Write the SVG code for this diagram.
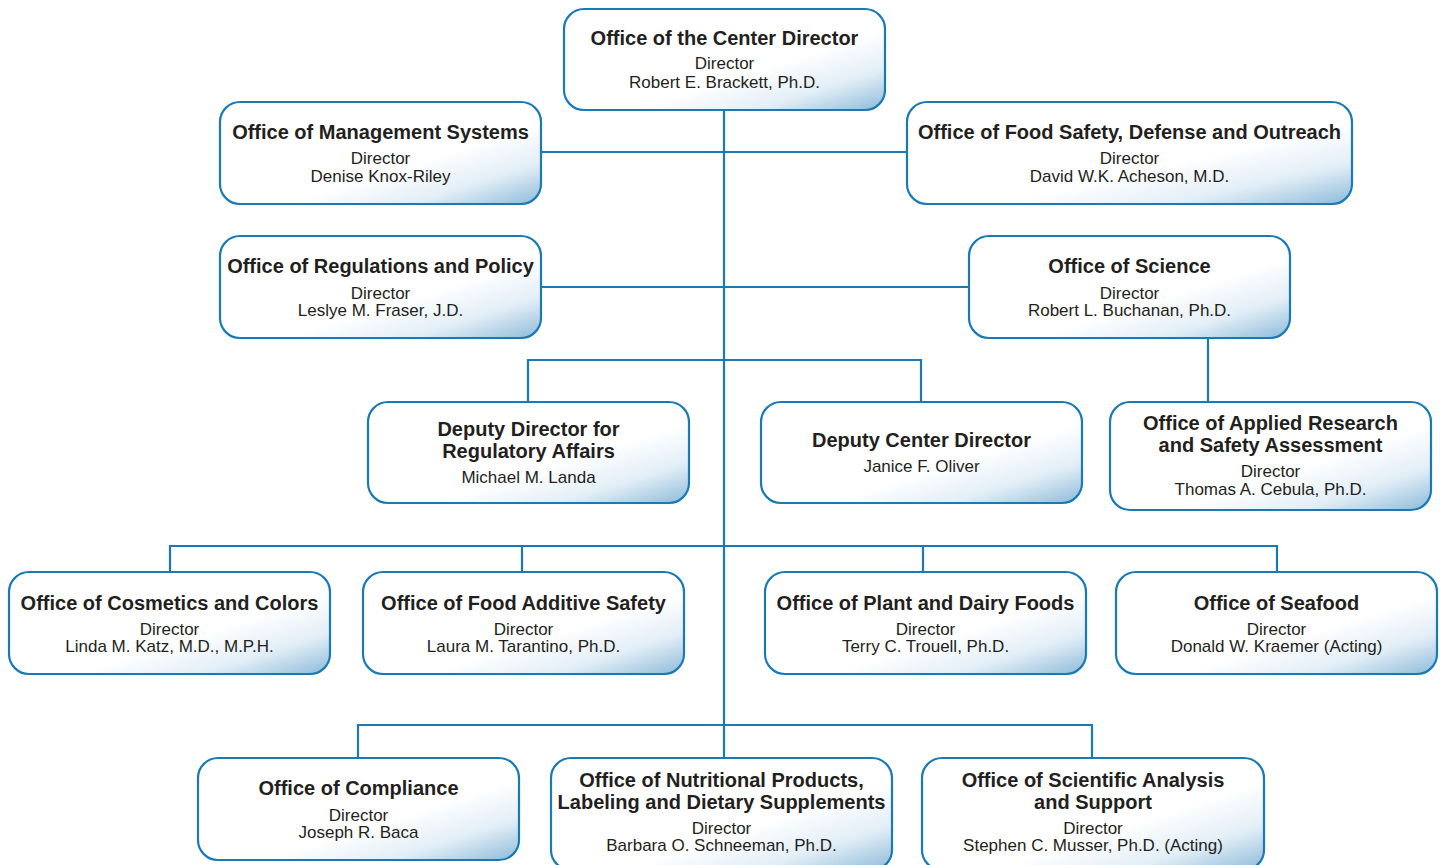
<svg xmlns="http://www.w3.org/2000/svg" width="1440" height="865" viewBox="0 0 1440 865">
<defs>
<linearGradient id="g" x1="0" y1="0" x2="1" y2="1">
<stop offset="0" stop-color="#ffffff"/>
<stop offset="0.6" stop-color="#ffffff"/>
<stop offset="0.8" stop-color="#e2eef7"/>
<stop offset="1" stop-color="#8cbad9"/>
</linearGradient>
</defs>
<style>
.box{fill:url(#g);stroke:#1a7ab5;stroke-width:2.2}
.ln{fill:none;stroke:#1a7ab5;stroke-width:2.2}
text{font-family:"Liberation Sans",Arial,sans-serif;fill:#231f20;text-anchor:middle}
.t{font-size:20px;font-weight:bold}
.s{font-size:17px}
</style>
<rect width="1440" height="865" fill="#ffffff"/>
<g id="connectors">
<path class="ln" d="M724 110V758"/>
<path class="ln" d="M541 152H907"/>
<path class="ln" d="M541 287H969"/>
<path class="ln" d="M528 402V360H921V402"/>
<path class="ln" d="M1208 338V402"/>
<path class="ln" d="M170 572V546H1277V572M522 546V572M923 546V572"/>
<path class="ln" d="M358 758V725H1092V758"/>
</g>
<g id="n-center">
<rect class="box" x="564" y="9" width="321" height="101" rx="20"/>
<text class="t" x="724.5" y="45">Office of the Center Director</text>
<text class="s" x="724.5" y="69">Director</text>
<text class="s" x="724.5" y="88">Robert E. Brackett, Ph.D.</text>
</g>
<g id="n-mgmt">
<rect class="box" x="220" y="102" width="321" height="102" rx="20"/>
<text class="t" x="380.5" y="139">Office of Management Systems</text>
<text class="s" x="380.5" y="164">Director</text>
<text class="s" x="380.5" y="182">Denise Knox-Riley</text>
</g>
<g id="n-foodsafety">
<rect class="box" x="907" y="102" width="445" height="102" rx="20"/>
<text class="t" x="1129.5" y="139">Office of Food Safety, Defense and Outreach</text>
<text class="s" x="1129.5" y="164">Director</text>
<text class="s" x="1129.5" y="182">David W.K. Acheson, M.D.</text>
</g>
<g id="n-regs">
<rect class="box" x="220" y="236" width="321" height="102" rx="20"/>
<text class="t" x="380.5" y="273">Office of Regulations and Policy</text>
<text class="s" x="380.5" y="299">Director</text>
<text class="s" x="380.5" y="316">Leslye M. Fraser, J.D.</text>
</g>
<g id="n-science">
<rect class="box" x="969" y="236" width="321" height="102" rx="20"/>
<text class="t" x="1129.5" y="273">Office of Science</text>
<text class="s" x="1129.5" y="299">Director</text>
<text class="s" x="1129.5" y="316">Robert L. Buchanan, Ph.D.</text>
</g>
<g id="n-depreg">
<rect class="box" x="368" y="402" width="321" height="101" rx="20"/>
<text class="t" x="528.5" y="436">Deputy Director for</text>
<text class="t" x="528.5" y="458">Regulatory Affairs</text>
<text class="s" x="528.5" y="483">Michael M. Landa</text>
</g>
<g id="n-depcenter">
<rect class="box" x="761" y="402" width="321" height="101" rx="20"/>
<text class="t" x="921.5" y="447">Deputy Center Director</text>
<text class="s" x="921.5" y="472">Janice F. Oliver</text>
</g>
<g id="n-applied">
<rect class="box" x="1110" y="402" width="321" height="108" rx="20"/>
<text class="t" x="1270.5" y="430">Office of Applied Research</text>
<text class="t" x="1270.5" y="452">and Safety Assessment</text>
<text class="s" x="1270.5" y="477">Director</text>
<text class="s" x="1270.5" y="495">Thomas A. Cebula, Ph.D.</text>
</g>
<g id="n-cosmetics">
<rect class="box" x="9" y="572" width="321" height="102" rx="20"/>
<text class="t" x="169.5" y="610">Office of Cosmetics and Colors</text>
<text class="s" x="169.5" y="635">Director</text>
<text class="s" x="169.5" y="652">Linda M. Katz, M.D., M.P.H.</text>
</g>
<g id="n-additive">
<rect class="box" x="363" y="572" width="321" height="102" rx="20"/>
<text class="t" x="523.5" y="610">Office of Food Additive Safety</text>
<text class="s" x="523.5" y="635">Director</text>
<text class="s" x="523.5" y="652">Laura M. Tarantino, Ph.D.</text>
</g>
<g id="n-plant">
<rect class="box" x="765" y="572" width="321" height="102" rx="20"/>
<text class="t" x="925.5" y="610">Office of Plant and Dairy Foods</text>
<text class="s" x="925.5" y="635">Director</text>
<text class="s" x="925.5" y="652">Terry C. Trouell, Ph.D.</text>
</g>
<g id="n-seafood">
<rect class="box" x="1116" y="572" width="321" height="102" rx="20"/>
<text class="t" x="1276.5" y="610">Office of Seafood</text>
<text class="s" x="1276.5" y="635">Director</text>
<text class="s" x="1276.5" y="652">Donald W. Kraemer (Acting)</text>
</g>
<g id="n-compliance">
<rect class="box" x="198" y="758" width="321" height="102" rx="20"/>
<text class="t" x="358.5" y="795">Office of Compliance</text>
<text class="s" x="358.5" y="821">Director</text>
<text class="s" x="358.5" y="838">Joseph R. Baca</text>
</g>
<g id="n-nutrition">
<rect class="box" x="551" y="758" width="341" height="112" rx="20"/>
<text class="t" x="721.5" y="787">Office of Nutritional Products,</text>
<text class="t" x="721.5" y="809">Labeling and Dietary Supplements</text>
<text class="s" x="721.5" y="834">Director</text>
<text class="s" x="721.5" y="851">Barbara O. Schneeman, Ph.D.</text>
</g>
<g id="n-sciana">
<rect class="box" x="922" y="758" width="342" height="112" rx="20"/>
<text class="t" x="1093" y="787">Office of Scientific Analysis</text>
<text class="t" x="1093" y="809">and Support</text>
<text class="s" x="1093" y="834">Director</text>
<text class="s" x="1093" y="851">Stephen C. Musser, Ph.D. (Acting)</text>
</g>
</svg>
